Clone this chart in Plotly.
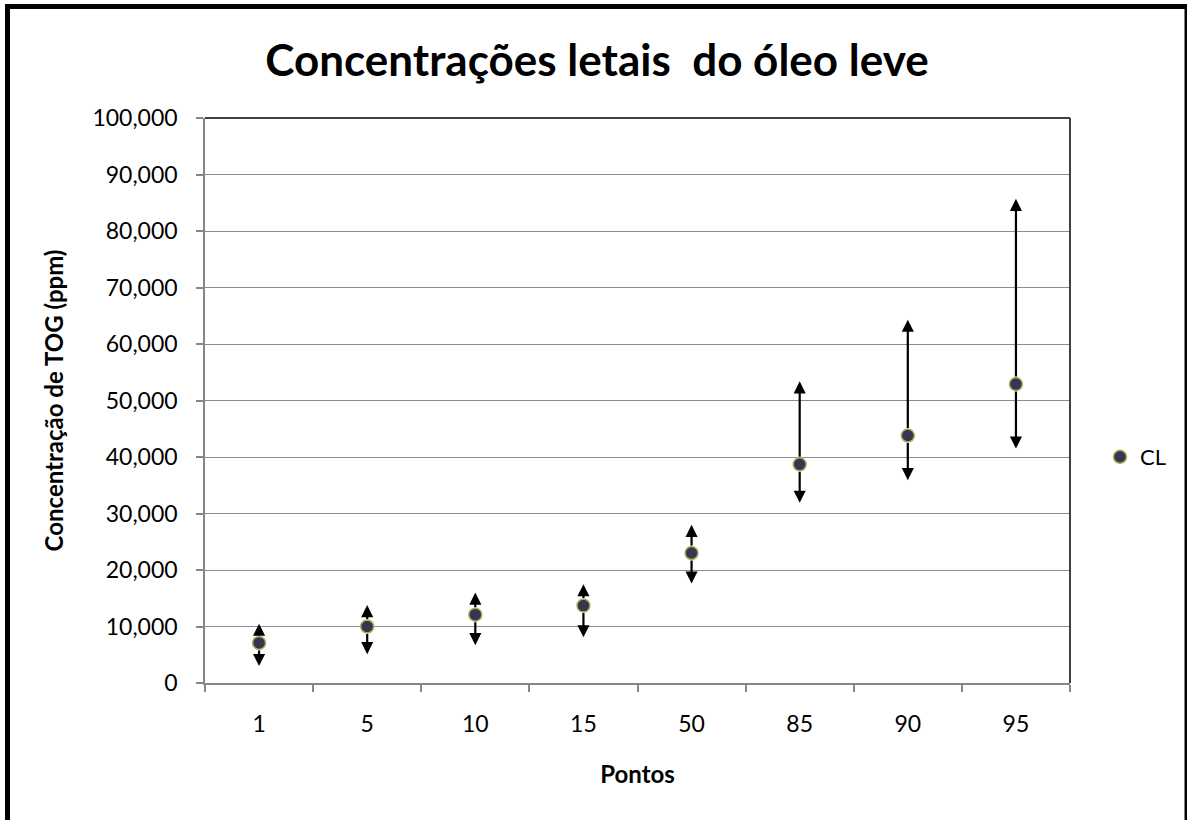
import plotly.graph_objects as go

categories = ["1", "5", "10", "15", "50", "85", "90", "95"]
cl_values = [7100, 10000, 12100, 13700, 23000, 38700, 43800, 52900]
upper_limits = [10500, 13800, 16000, 17500, 28000, 53400, 64300, 85700]
lower_limits = [3000, 5100, 6700, 8100, 17600, 31900, 35900, 41500]
y_tick_values = [0, 10000, 20000, 30000, 40000, 50000, 60000, 70000, 80000, 90000, 100000]
y_tick_labels = ["0", "10,000", "20,000", "30,000", "40,000", "50,000", "60,000",
                 "70,000", "80,000", "90,000", "100,000"]

W, H = 1187, 820
L, R, T, B = 205, 117, 118, 137
PW, PH = W - L - R, H - T - B

FONT = "Lato"

fig = go.Figure()

fig.add_trace(go.Scatter(
    x=categories, y=cl_values, mode="markers", name="CL",
    marker=dict(size=13, color="#3F3151", line=dict(color="#9BBB59", width=1.5)),
))

annotations = []
for i, (v, up, lo) in enumerate(zip(cl_values, upper_limits, lower_limits)):
    for tip in (up, lo):
        annotations.append(dict(
            x=i, y=tip, xref="x", yref="y",
            ax=i, ay=v, axref="x", ayref="y",
            text="", showarrow=True, arrowhead=2, arrowsize=1.1,
            arrowwidth=2.2, arrowcolor="black", startstandoff=6,
        ))

fig.update_layout(
    width=W, height=H,
    margin=dict(l=L, r=R, t=T, b=B, autoexpand=False),
    paper_bgcolor="white", plot_bgcolor="white",
    font=dict(family=FONT, color="black"),
    title=dict(text="Concentrações letais  do óleo leve",
               font=dict(family=FONT, size=44, color="black", weight="bold"),
               x=(597 / W), xanchor="center", y=1 - 61 / H, yanchor="middle"),
    showlegend=True,
    legend=dict(x=(1100 - L) / PW, y=(683 - 457) / PH, xanchor="left", yanchor="middle",
                font=dict(family=FONT, size=22, color="black"),
                bgcolor="rgba(0,0,0,0)", itemwidth=30),
    annotations=annotations,
    xaxis=dict(
        type="category", categoryorder="array", categoryarray=categories,
        range=[-0.5, 7.5], automargin=False,
        showline=True, linecolor="#868686", linewidth=1.5,
        ticks="outside", tickson="boundaries", ticklen=7, tickcolor="#868686", tickwidth=1.5,
        tickfont=dict(family=FONT, size=23, color="black"),
        ticklabelstandoff=20,
        showgrid=False, zeroline=False,
        title=dict(text="Pontos", font=dict(family=FONT, size=24, color="black", weight="bold"),
                   standoff=30),
    ),
    yaxis=dict(
        range=[0, 100000], automargin=False,
        tickvals=y_tick_values, ticktext=y_tick_labels,
        showline=True, linecolor="#868686", linewidth=1.5,
        ticks="outside", ticklen=7, tickcolor="#868686", tickwidth=1.5,
        tickfont=dict(family=FONT, size=23, color="black"),
        ticklabelstandoff=14,
        showgrid=True, gridcolor="#8C8C8C", gridwidth=1.2, zeroline=False,
        title=dict(text="Concentração de TOG (ppm)",
                   font=dict(family=FONT, size=24, color="black", weight="bold"),
                   standoff=22),
    ),
    shapes=[
        dict(type="line", xref="paper", yref="paper", x0=0, x1=1, y0=1, y1=1,
             line=dict(color="#404040", width=2)),
        dict(type="line", xref="paper", yref="paper", x0=1, x1=1, y0=0, y1=1,
             line=dict(color="#404040", width=2)),
        dict(type="rect", xref="paper", yref="paper",
             x0=(7.5 - L) / PW, x1=(1187 - L) / PW,
             y0=(683 - 830) / PH, y1=(683 - 6.5) / PH,
             line=dict(color="black", width=5), fillcolor="rgba(0,0,0,0)", layer="above"),
    ],
)

fig.write_html("out.html", config={"displayModeBar": False},
               post_script="document.body.style.margin='0';document.body.style.overflow='hidden';")
